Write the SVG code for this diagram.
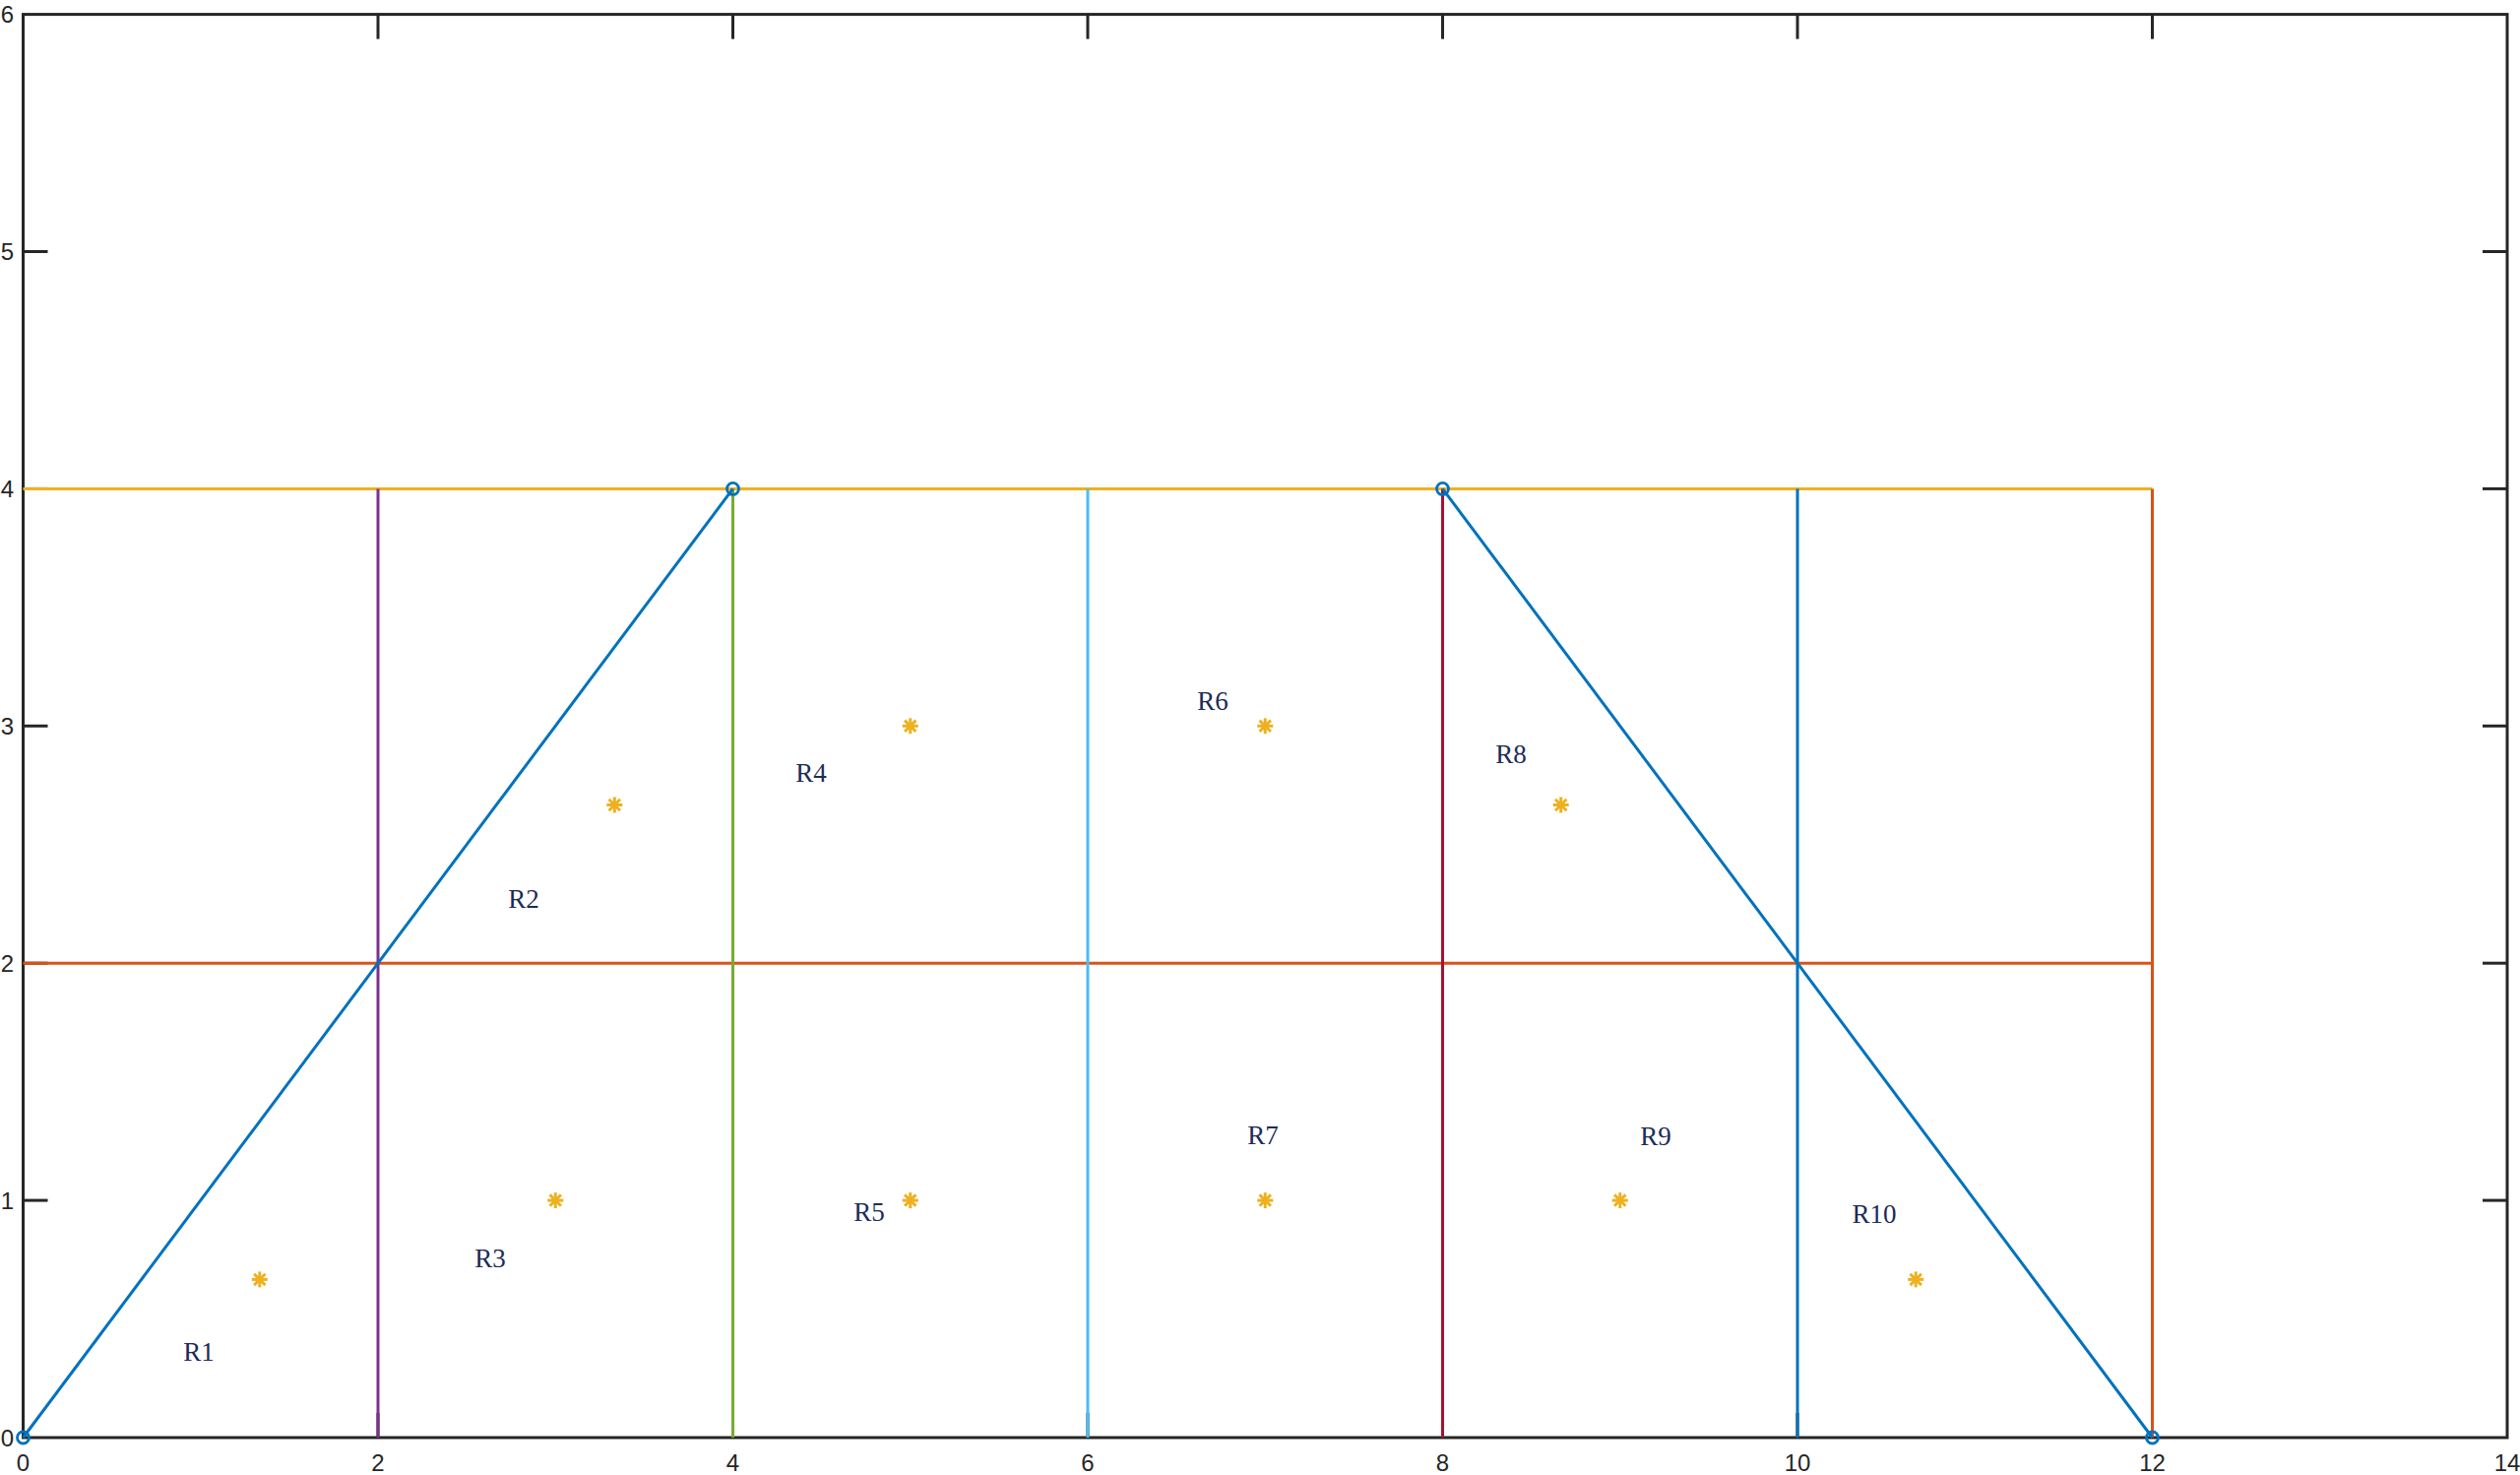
<svg xmlns="http://www.w3.org/2000/svg" width="2560" height="1498" viewBox="0 0 2560 1498">
<style>
.ax{stroke:#262626;stroke-width:3;fill:none}
.tk{stroke:#262626;stroke-width:3}
.tl{font-family:"Liberation Sans",Arial,sans-serif;font-size:24px;fill:#262626}
.ln{stroke-width:3;fill:none;stroke-linecap:butt}
.lb{font-family:"Liberation Serif","Times New Roman",serif;font-size:27px;fill:#1c2b57;text-anchor:middle}
.ast{stroke:#EDB120;stroke-width:3}
.circ{stroke:#0072BD;stroke-width:2.8;fill:none}
</style>
<defs>
<g id="star">
<line class="ast" x1="-8" y1="0" x2="8" y2="0"/>
<line class="ast" x1="0" y1="-8" x2="0" y2="8"/>
<line class="ast" x1="-5.7" y1="-5.7" x2="5.7" y2="5.7"/>
<line class="ast" x1="-5.7" y1="5.7" x2="5.7" y2="-5.7"/>
</g>
</defs>
<rect width="2560" height="1498" fill="#ffffff"/>
<g id="axes">
<rect class="ax" x="23.5" y="14.6" width="2523.5" height="1445.4"/>
<g id="ticks">
<line class="tk" x1="384" y1="1460" x2="384" y2="1435"/><line class="tk" x1="384" y1="14.6" x2="384" y2="39.6"/>
<line class="tk" x1="744.5" y1="1460" x2="744.5" y2="1435"/><line class="tk" x1="744.5" y1="14.6" x2="744.5" y2="39.6"/>
<line class="tk" x1="1105" y1="1460" x2="1105" y2="1435"/><line class="tk" x1="1105" y1="14.6" x2="1105" y2="39.6"/>
<line class="tk" x1="1465.5" y1="1460" x2="1465.5" y2="1435"/><line class="tk" x1="1465.5" y1="14.6" x2="1465.5" y2="39.6"/>
<line class="tk" x1="1826" y1="1460" x2="1826" y2="1435"/><line class="tk" x1="1826" y1="14.6" x2="1826" y2="39.6"/>
<line class="tk" x1="2186.5" y1="1460" x2="2186.5" y2="1435"/><line class="tk" x1="2186.5" y1="14.6" x2="2186.5" y2="39.6"/>
<line class="tk" x1="23.5" y1="1219.1" x2="48.5" y2="1219.1"/><line class="tk" x1="2547" y1="1219.1" x2="2522" y2="1219.1"/>
<line class="tk" x1="23.5" y1="978.2" x2="48.5" y2="978.2"/><line class="tk" x1="2547" y1="978.2" x2="2522" y2="978.2"/>
<line class="tk" x1="23.5" y1="737.3" x2="48.5" y2="737.3"/><line class="tk" x1="2547" y1="737.3" x2="2522" y2="737.3"/>
<line class="tk" x1="23.5" y1="496.4" x2="48.5" y2="496.4"/><line class="tk" x1="2547" y1="496.4" x2="2522" y2="496.4"/>
<line class="tk" x1="23.5" y1="255.5" x2="48.5" y2="255.5"/><line class="tk" x1="2547" y1="255.5" x2="2522" y2="255.5"/>
</g>
<g id="xticklabels" class="tl" text-anchor="middle">
<text x="23.5" y="1494">0</text>
<text x="384" y="1494">2</text>
<text x="744.5" y="1494">4</text>
<text x="1105" y="1494">6</text>
<text x="1465.5" y="1494">8</text>
<text x="1826" y="1494">10</text>
<text x="2186.5" y="1494">12</text>
<text x="2547" y="1494">14</text>
</g>
<g id="yticklabels" class="tl" text-anchor="end">
<text x="14" y="1468.5">0</text>
<text x="14" y="1227.6">1</text>
<text x="14" y="986.7">2</text>
<text x="14" y="745.8">3</text>
<text x="14" y="504.9">4</text>
<text x="14" y="264">5</text>
<text x="14" y="23">6</text>
</g>
</g>
<g id="connectors">
<line class="ln" stroke="#EDB120" x1="23.5" y1="496.4" x2="2186.5" y2="496.4"/>
<line class="ln" stroke="#D95319" x1="23.5" y1="978.2" x2="2186.5" y2="978.2"/>
<line class="ln" stroke="#7E2F8E" x1="384" y1="1460" x2="384" y2="496.4"/>
<line class="ln" stroke="#77AC30" x1="744.5" y1="1460" x2="744.5" y2="496.4"/>
<line class="ln" stroke="#4DBEEE" x1="1105" y1="1460" x2="1105" y2="496.4"/>
<line class="ln" stroke="#A2142F" x1="1465.5" y1="1460" x2="1465.5" y2="496.4"/>
<line class="ln" stroke="#0072BD" x1="1826" y1="1460" x2="1826" y2="496.4"/>
<line class="ln" stroke="#D95319" x1="2186.5" y1="1460" x2="2186.5" y2="496.4"/>
<line class="ln" stroke="#0072BD" x1="23.5" y1="1460" x2="744.5" y2="496.4"/>
<line class="ln" stroke="#0072BD" x1="1465.5" y1="496.4" x2="2186.5" y2="1460"/>
</g>
<g id="vertices">
<circle class="circ" cx="23.5" cy="1460" r="6"/>
<circle class="circ" cx="744.5" cy="496.4" r="6"/>
<circle class="circ" cx="1465.5" cy="496.4" r="6"/>
<circle class="circ" cx="2186.5" cy="1460" r="6"/>
</g>
<g id="centroids">
<use href="#star" x="263.8" y="1299.4"/>
<use href="#star" x="624.3" y="817.5"/>
<use href="#star" x="564.25" y="1219.1"/>
<use href="#star" x="924.75" y="737.3"/>
<use href="#star" x="924.75" y="1219.1"/>
<use href="#star" x="1285.25" y="737.3"/>
<use href="#star" x="1285.25" y="1219.1"/>
<use href="#star" x="1585.7" y="817.5"/>
<use href="#star" x="1645.75" y="1219.1"/>
<use href="#star" x="1946.2" y="1299.4"/>
</g>
<g id="labels">
<g id="R1"><text class="lb" x="202" y="1382">R1</text></g>
<g id="R2"><text class="lb" x="532" y="922">R2</text></g>
<g id="R3"><text class="lb" x="498" y="1287">R3</text></g>
<g id="R4"><text class="lb" x="824" y="794">R4</text></g>
<g id="R5"><text class="lb" x="883" y="1240">R5</text></g>
<g id="R6"><text class="lb" x="1232" y="721">R6</text></g>
<g id="R7"><text class="lb" x="1283" y="1162">R7</text></g>
<g id="R8"><text class="lb" x="1535" y="775">R8</text></g>
<g id="R9"><text class="lb" x="1682" y="1163">R9</text></g>
<g id="R10"><text class="lb" x="1904" y="1242">R10</text></g>
</g>
</svg>
